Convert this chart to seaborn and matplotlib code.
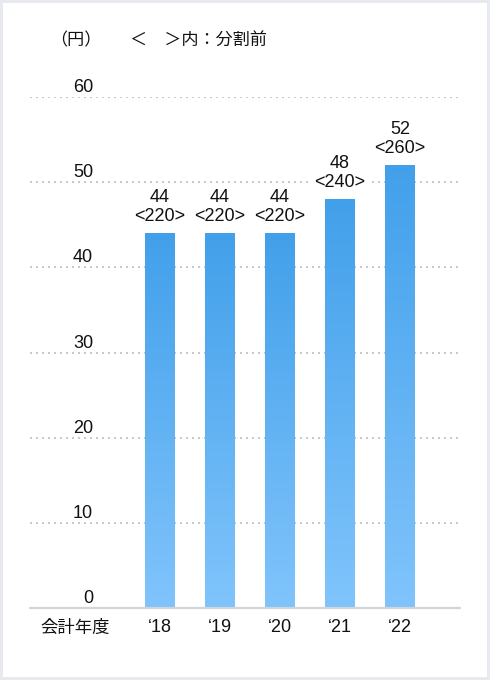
import numpy as np
import pandas as pd
import matplotlib
matplotlib.use('Agg')
import matplotlib.pyplot as plt
import seaborn as sns
from matplotlib.patches import Rectangle
from matplotlib.colors import LinearSegmentedColormap

# 配当金（円）と分割前の値
years = ['‘18', '‘19', '‘20', '‘21', '‘22']
dividends = [44, 44, 44, 48, 52]
before_split = [220, 220, 220, 240, 260]
yticks = [0, 10, 20, 30, 40, 50, 60]

sns.set_theme(style='white')
plt.rcParams['font.family'] = ['Liberation Sans', 'Noto Sans CJK JP', 'DejaVu Sans']
plt.rcParams['text.color'] = '#111111'
plt.rcParams['xtick.color'] = '#111111'
plt.rcParams['xtick.labelcolor'] = '#111111'
JP = ['Noto Sans CJK JP', 'DejaVu Sans']

W, H = 490, 680
fig = plt.figure(figsize=(W / 100, H / 100), dpi=100)
fig.patch.set_facecolor('#e6e9ed')
fig.add_artist(Rectangle((3 / W, 3 / H), 484 / W, 674 / H, transform=fig.transFigure,
                         facecolor='white', edgecolor='none', zorder=-5))

ax = fig.add_axes([30 / W, 72 / H, 430 / W, 511 / H])
ax.set_facecolor('none')

df = pd.DataFrame({'year': years, 'value': dividends})
sns.barplot(data=df, x='year', y='value', ax=ax, width=0.5, color='#5aaef0',
            saturation=1, zorder=2)

# グラデーション
cmap = LinearSegmentedColormap.from_list('bar', ['#80c4fc', '#42a0ea'])
grad = np.linspace(0, 1, 256).reshape(-1, 1)
for p in ax.patches:
    x0, w, h = p.get_x(), p.get_width(), p.get_height()
    ax.imshow(grad, extent=[x0, x0 + w, 0, h], origin='lower', cmap=cmap,
              aspect='auto', zorder=2)
    p.set_alpha(0)

ax.set_xlim(-130 / 60, 1.0 + 4)
ax.set_ylim(0, 60)

for t in yticks[1:]:
    ax.axhline(t, color='#c9c9c9', lw=1.44, ls=(0, (1, 2)), zorder=0)
ax.axhline(0, color='#cfd5db', lw=1.6, zorder=3, clip_on=False)

for s in ax.spines.values():
    s.set_visible(False)
ax.set_yticks([])
ax.set_xlabel('')
ax.set_ylabel('')
ax.set_xticks(range(len(years)))
ax.set_xticklabels(years, fontsize=13)
ax.tick_params(axis='x', length=0, pad=8)

for t in yticks:
    ax.annotate(str(t), xy=(63 / 430, t), xycoords=('axes fraction', 'data'),
                xytext=(0, 5), textcoords='offset pixels', ha='right',
                va='baseline', fontsize=13)

ax.annotate('会計年度', xy=(45 / 430, 0), xycoords=('axes fraction', 'data'),
            xytext=(0, -20), textcoords='offset pixels', ha='center', va='center',
            fontsize=12.5, family=JP)

labels = [f'{v}\n<{b}>' for v, b in zip(dividends, before_split)]
ax.bar_label(ax.containers[0], labels=labels, padding=6, fontsize=13,
             linespacing=1.15, zorder=4,
             bbox=dict(boxstyle='round,pad=0.25', fc='white', ec='none'))

fig.text(50 / W, 1 - 40 / H, '（円）', fontsize=12.3, va='center', family=JP)
fig.text(130 / W, 1 - 40 / H, '＜　＞内：分割前', fontsize=12.3, va='center', family=JP)

fig.savefig('out.png', dpi=100, facecolor=fig.get_facecolor())
